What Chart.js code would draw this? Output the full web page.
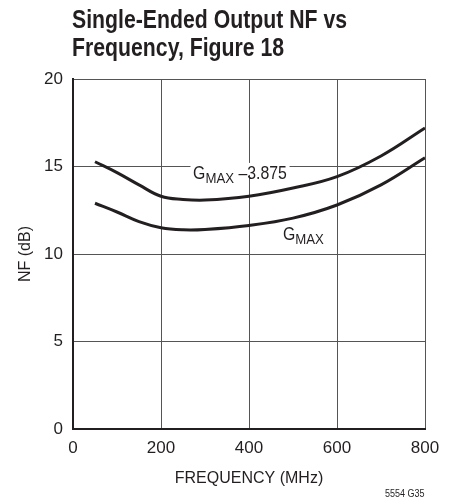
<!DOCTYPE html>
<html>
<head>
<meta charset="utf-8">
<script src="https://cdn.jsdelivr.net/npm/chart.js@4/dist/chart.umd.min.js"></script>
<style>
  html, body { margin: 0; padding: 0; background: #fff; }
  #wrap { position: relative; width: 454px; height: 500px; }
  #title {
    position: absolute; left: 72px; top: 5px; white-space: nowrap;
    font-family: "Liberation Sans", Arial, sans-serif;
    font-weight: bold; font-size: 25px; line-height: 28px; color: #231f20;
    transform: scaleX(0.85); transform-origin: left top;
  }
  #note {
    position: absolute; left: 385px; top: 487px; white-space: nowrap;
    font-family: "Liberation Sans", sans-serif;
    font-size: 11px; color: #231f20;
    transform: scaleX(0.82); transform-origin: left top;
  }
  canvas { position: absolute; left: 0; top: 0; }
</style>
</head>
<body>
<div id="wrap">
  <canvas id="nfChart" width="454" height="500"></canvas>
  <div id="title">Single-Ended Output NF vs<br>Frequency, Figure 18</div>
  <div id="note">5554 G35</div>
</div>
<script>
const freqMHz = [50, 100, 150, 200, 250, 300, 400, 500, 600, 700, 800];
const nfGmaxMinus = [15.27, 14.65, 13.95, 13.3, 13.12, 13.08, 13.3, 13.77, 14.42, 15.6, 17.2];
const nfGmax = [12.9, 12.4, 11.85, 11.5, 11.38, 11.4, 11.63, 12.05, 12.8, 13.95, 15.5];
const xTicks = [0, 200, 400, 600, 800];
const yTicks = [0, 5, 10, 15, 20];

const FONT = '"Liberation Sans", Arial, sans-serif';
const INK = "#231f20";
const GRID = "#555";

function pts(ys) {
  return freqMHz.map((f, i) => ({ x: f, y: ys[i] }));
}

// curve labels: G with subscript MAX, drawn slightly condensed
const curveLabels = {
  id: "curveLabels",
  afterDatasetsDraw(chart) {
    const { ctx, scales } = chart;
    const sx = 0.88;
    const items = [
      { f: 273, v: 14.29, tail: " \u20133.875", mask: true },
      { f: 477, v: 10.8, tail: "", mask: false },
    ];
    items.forEach((it) => {
      const x = scales.x.getPixelForValue(it.f);
      const y = scales.y.getPixelForValue(it.v);
      ctx.save();
      ctx.translate(x, y);
      ctx.scale(sx, 1);
      ctx.font = "18px " + FONT;
      const gW = ctx.measureText("G").width;
      const tW = ctx.measureText(it.tail).width;
      ctx.font = "15px " + FONT;
      const mW = ctx.measureText("MAX").width;
      if (it.mask) {
        ctx.fillStyle = "#fff";
        ctx.fillRect(-3, -16, gW + mW + tW + 6, 12);
      }
      ctx.fillStyle = INK;
      ctx.textBaseline = "alphabetic";
      ctx.textAlign = "left";
      ctx.font = "18px " + FONT;
      ctx.fillText("G", 0, 0);
      ctx.font = "15px " + FONT;
      ctx.fillText("MAX", gW, 4);
      ctx.font = "18px " + FONT;
      ctx.fillText(it.tail, gW + mW, 0);
      ctx.restore();
    });
  },
};

new Chart(document.getElementById("nfChart").getContext("2d"), {
  type: "line",
  data: {
    datasets: [
      { label: "GMAX -3.875", data: pts(nfGmaxMinus), borderColor: INK, borderWidth: 3, pointRadius: 0, tension: 0.4, fill: false },
      { label: "GMAX", data: pts(nfGmax), borderColor: INK, borderWidth: 3, pointRadius: 0, tension: 0.4, fill: false },
    ],
  },
  options: {
    responsive: false,
    animation: false,
    layout: { padding: { top: 79, right: 29, left: 0, bottom: 0 } },
    plugins: { legend: { display: false }, tooltip: { enabled: false } },
    scales: {
      x: {
        type: "linear", min: 0, max: 800,
        afterBuildTicks: (s) => { s.ticks = xTicks.map((v) => ({ value: v })); },
        afterFit: (s) => { s.height = 71; },
        grid: { color: GRID, lineWidth: 1, drawTicks: false },
        border: { color: INK, width: 2 },
        ticks: { color: INK, font: { family: FONT, size: 17 }, padding: 9, maxRotation: 0 },
        title: { display: true, text: "FREQUENCY (MHz)", color: INK, font: { family: FONT, size: 16 }, padding: { top: 4, bottom: 12 } },
      },
      y: {
        min: 0, max: 20,
        afterBuildTicks: (s) => { s.ticks = yTicks.map((v) => ({ value: v })); },
        afterFit: (s) => { s.width = 73; },
        grid: { color: GRID, lineWidth: 1, drawTicks: false },
        border: { color: INK, width: 2 },
        ticks: { color: INK, font: { family: FONT, size: 17 }, padding: 10 },
        title: { display: true, text: "NF (dB)", color: INK, font: { family: FONT, size: 16 }, padding: { top: 16, bottom: 0 } },
      },
    },
  },
  plugins: [curveLabels],
});
</script>
</body>
</html>
